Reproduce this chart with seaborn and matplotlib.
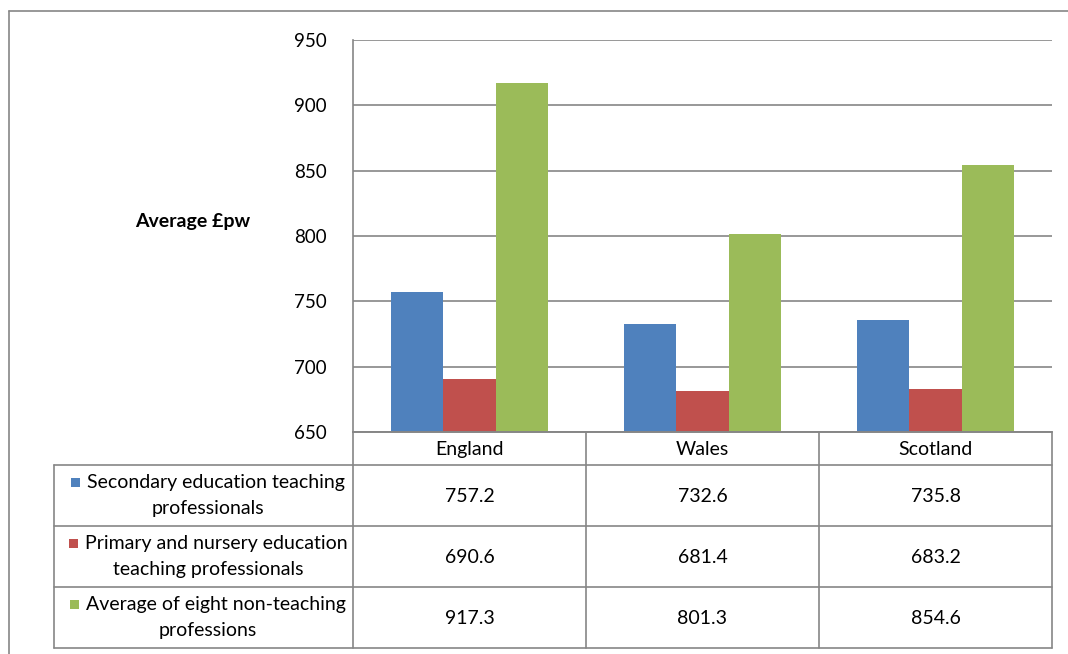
import matplotlib
matplotlib.use("Agg")
import matplotlib.pyplot as plt
from matplotlib.lines import Line2D
from matplotlib.patches import Rectangle
import pandas as pd
import seaborn as sns

# Weekly earnings by region
regions = ["England", "Wales", "Scotland"]
series = [
    "Secondary education teaching professionals",
    "Primary and nursery education teaching professionals",
    "Average of eight non-teaching professions",
]
series_lines = [
    ["Secondary education teaching", "professionals"],
    ["Primary and nursery education", "teaching professionals"],
    ["Average of eight non-teaching", "professions"],
]
secondary = [757.2, 732.6, 735.8]
primary = [690.6, 681.4, 683.2]
non_teaching = [917.3, 801.3, 854.6]
values = [secondary, primary, non_teaching]
yticks = [650, 700, 750, 800, 850, 900, 950]
colors = ["#4F81BD", "#C0504D", "#9BBB59"]

rows = []
for s, vals in zip(series, values):
    for r, v in zip(regions, vals):
        rows.append({"region": r, "series": s, "value": v})
df = pd.DataFrame(rows)

sns.set_theme(style="white")
plt.rcParams["font.family"] = ["Lato", "DejaVu Sans"]

W, H = 1068, 654
fig = plt.figure(figsize=(W / 100, H / 100), dpi=100)

# plot area in pixel coordinates
px_l, px_r, px_t, px_b = 353, 1052, 40, 432
ax = fig.add_axes([px_l / W, 1 - px_b / H, (px_r - px_l) / W, (px_b - px_t) / H])

sns.barplot(data=df, x="region", y="value", hue="series", order=regions,
            hue_order=series, palette=colors, width=0.67, saturation=1,
            legend=False, ax=ax, linewidth=0)

grid_c = "#868686"
ax.set_ylim(650, 950)
ax.set_xlim(-0.5, 2.5)
ax.set_yticks(yticks)
ax.set_yticklabels([str(t) for t in yticks], fontsize=13.5, color="#000000")
ax.set_xticks([])
ax.set_xlabel("")
ax.set_ylabel("")
ax.yaxis.grid(True, color=grid_c, lw=1.2)
ax.set_axisbelow(True)
ax.tick_params(axis="y", length=0, pad=19)
for side in ["top", "right"]:
    ax.spines[side].set_visible(False)
for side in ["left", "bottom"]:
    ax.spines[side].set_color(grid_c)
    ax.spines[side].set_linewidth(1.2)

# overlay in pixel coordinates for the frame, axis title and data table
ov = fig.add_axes([0, 0, 1, 1], zorder=5)
ov.set_xlim(0, W)
ov.set_ylim(H, 0)
ov.axis("off")
ov.patch.set_alpha(0)

def hline(x0, x1, y):
    ov.add_line(Line2D([x0, x1], [y, y], color=grid_c, lw=1.2))

def vline(x, y0, y1):
    ov.add_line(Line2D([x, x], [y0, y1], color=grid_c, lw=1.2))

# outer chart frame
hline(8.5, W, 10.5)
vline(8.5, 10.5, H)

ov.text(193, 221, "Average £pw", fontsize=14, fontweight="bold",
        ha="center", va="center", color="#000000")

# data table
col_x = [px_l + (px_r - px_l) * i / 3 for i in range(4)]
label_l = 54
row_y = [px_b, 465, 526, 587, 648]
fs = 14

hline(px_l, px_r, row_y[0])
for y in row_y[1:]:
    hline(label_l, px_r, y)
vline(label_l, row_y[1], row_y[-1])
for x in col_x:
    vline(x, row_y[0], row_y[-1])

for i, r in enumerate(regions):
    ov.text((col_x[i] + col_x[i + 1]) / 2, (row_y[0] + row_y[1]) / 2 + 1, r,
            fontsize=fs, ha="center", va="center", color="#000000")

label_cx = 208
texts = []
for j, (lines, vals) in enumerate(zip(series_lines, values)):
    y0, y1 = row_y[j + 1], row_y[j + 2]
    cy = (y0 + y1) / 2
    t1 = ov.text(label_cx + 8, cy - 13, lines[0], fontsize=fs,
                 ha="center", va="center", color="#000000")
    ov.text(label_cx, cy + 13, lines[1], fontsize=fs,
            ha="center", va="center", color="#000000")
    texts.append((t1, colors[j], cy - 13))
    for i, v in enumerate(vals):
        ov.text((col_x[i] + col_x[i + 1]) / 2, cy + 1, f"{v:.1f}",
                fontsize=fs, ha="center", va="center", color="#000000")

# legend keys placed just before the first line of each series label
fig.canvas.draw()
inv = ov.transData.inverted()
for t, c, ky in texts:
    bb = t.get_window_extent()
    x0 = inv.transform((bb.x0, bb.y0))[0]
    ov.add_patch(Rectangle((x0 - 16, ky - 5), 9, 9, color=c, lw=0))

fig.savefig("out.png", dpi=100)
